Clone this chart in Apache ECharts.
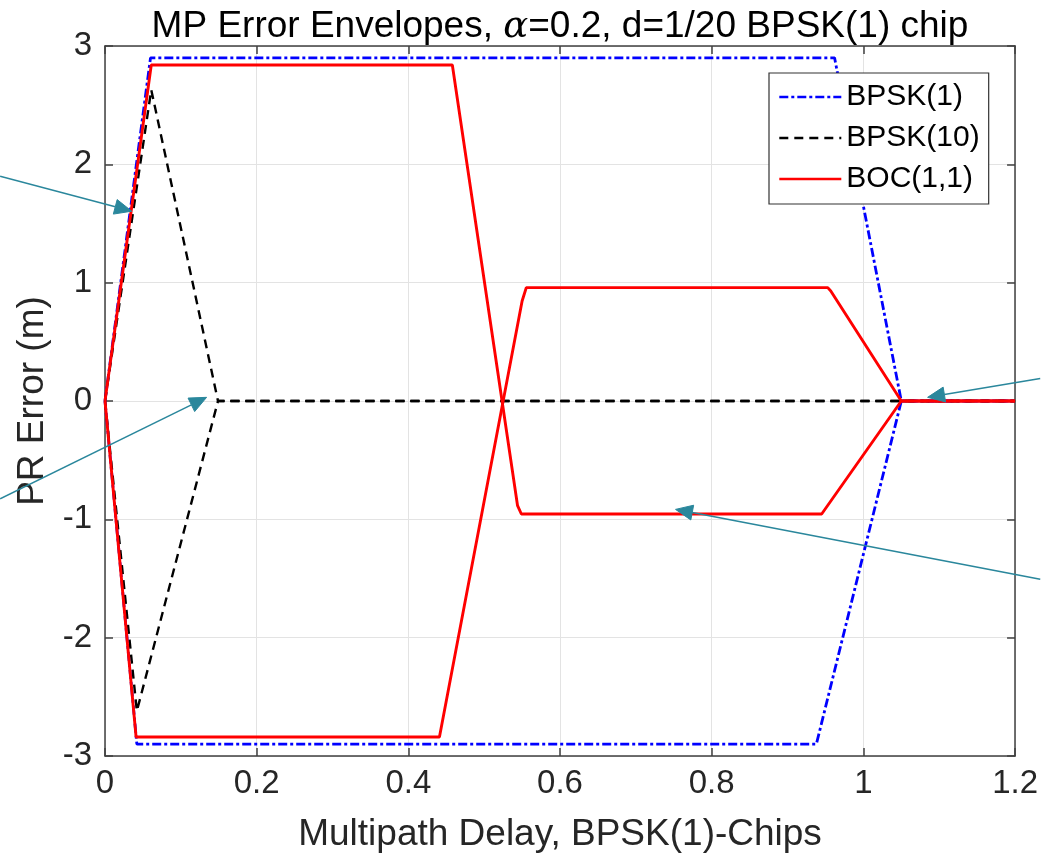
<!DOCTYPE html>
<html><head><meta charset="utf-8">
<script src="https://cdn.jsdelivr.net/npm/echarts@6/dist/echarts.min.js"></script>
<style>html,body{margin:0;padding:0;background:#fff}#c{width:1041px;height:858px}</style>
</head><body><div id="c"></div>
<script>
// ---- axis definitions ----
const xRange = [0, 1.2], xStep = 0.2;
const yRange = [-3, 3], yStep = 1;

// ---- series data: [delay (chips), PR error (m)] ----
const bpsk1Upper = [[0,0],[0.06,2.9],[0.962,2.9],[1.05,0],[1.2,0]];
const bpsk1Lower = [[0,0],[0.042,-2.9],[0.938,-2.9],[1.05,0],[1.2,0]];
const bpsk10Upper = [[0,0],[0.061,2.63],[0.149,0],[1.2,0]];
const bpsk10Lower = [[0,0],[0.042,-2.62],[0.149,0],[1.2,0]];
const bocUpper = [[0,0],[0.061,2.84],[0.458,2.84],[0.544,-0.885],[0.549,-0.955],[0.945,-0.955],[1.05,0],[1.2,0]];
const bocLower = [[0,0],[0.041,-2.84],[0.441,-2.84],[0.550,0.845],[0.5555,0.958],[0.953,0.958],[0.957,0.93],[1.05,0],[1.2,0]];

// ---- annotation arrows (data coordinates) ----
const arrowTails = [[-0.1383,1.899],[-0.1383,-0.826],[1.2332,0.191],[1.2332,-1.506]];
const arrowTips  = [[0.0352,1.604],[0.134,0.031],[1.0847,0.031],[0.7523,-0.916]];

const FONT = "'Liberation Sans', Arial, Helvetica, sans-serif";
const TXT = '#262626';
const chart = echarts.init(document.getElementById('c'), null, {renderer:'canvas'});

const baseAxis = {
  type: 'value',
  axisLine: {show: true, onZero: false, lineStyle: {color: '#404040', width: 1.5}},
  axisTick: {show: true, inside: true, length: 8, lineStyle: {color: '#404040', width: 1.5}},
  splitLine: {show: false},
  axisLabel: {show: false}
};

const blue = {color: '#0000ff', width: 2.8, type: [9,3,3,3]};
const black = {color: '#000000', width: 2.4, type: [9,6]};
const red = {color: '#ff0000', width: 2.9, type: 'solid'};

function mk(name, data, ls) {
  return {name, type: 'line', data, showSymbol: false, symbol: 'none',
    lineStyle: ls, itemStyle: {color: ls.color}, animation: false, clip: true,
    xAxisIndex: 0, yAxisIndex: 0};
}

chart.setOption({
  animation: false,
  backgroundColor: '#fff',
  grid: {left: 105, right: 25, top: 46, bottom: 100, containLabel: false},
  xAxis: [
    Object.assign({}, baseAxis, {
      position: 'bottom', min: xRange[0], max: xRange[1], interval: xStep,
      splitLine: {show: true, lineStyle: {color: '#e3e3e3', width: 1}},
      axisLabel: {show: true, color: TXT, fontSize: 33, fontFamily: FONT, margin: 11},
      name: 'Multipath Delay, BPSK(1)-Chips', nameLocation: 'middle', nameGap: 60,
      nameTextStyle: {color: TXT, fontSize: 37, fontFamily: FONT}
    }),
    Object.assign({}, baseAxis, {position: 'top', min: xRange[0], max: xRange[1], interval: xStep})
  ],
  yAxis: [
    Object.assign({}, baseAxis, {
      position: 'left', min: yRange[0], max: yRange[1], interval: yStep,
      splitLine: {show: true, lineStyle: {color: '#e3e3e3', width: 1}},
      axisLabel: {show: true, color: TXT, fontSize: 33, fontFamily: FONT, margin: 13},
      name: 'PR Error (m)', nameLocation: 'middle', nameGap: 50,
      nameTextStyle: {color: TXT, fontSize: 37, fontFamily: FONT}
    }),
    Object.assign({}, baseAxis, {position: 'right', min: yRange[0], max: yRange[1], interval: yStep})
  ],
  legend: {
    orient: 'vertical', left: 769, top: 73,
    data: ['BPSK(1)', 'BPSK(10)', 'BOC(1,1)'],
    itemWidth: 62, itemHeight: 14, itemGap: 11,
    padding: [9, 9, 10, 9],
    itemStyle: {opacity: 0},
    lineStyle: {width: 2.6},
    backgroundColor: '#fff', borderColor: '#333', borderWidth: 1.2,
    textStyle: {color: '#000', fontSize: 30, fontFamily: FONT, lineHeight: 28},
    selectedMode: false
  },
  series: [
    mk('BPSK(1)', bpsk1Upper, blue), mk('BPSK(1)', bpsk1Lower, blue),
    mk('BPSK(10)', bpsk10Upper, black), mk('BPSK(10)', bpsk10Lower, black),
    mk('BOC(1,1)', bocUpper, red), mk('BOC(1,1)', bocLower, red)
  ]
});

// title + arrows as graphic elements
const graphics = [{
  type: 'text', x: 560, y: 27, z: 100,
  style: {
    text: '{a|MP Error Envelopes, }{i|α}{a|=0.2, d=1/20 BPSK(1) chip}',
    align: 'center', verticalAlign: 'middle',
    rich: {
      a: {fontSize: 37, fontFamily: FONT, fill: '#000'},
      i: {fontSize: 37, fontFamily: "'DejaVu Serif', 'Liberation Serif', serif", fontStyle: 'italic', fill: '#000'}
    }
  }
}];
const AC = '#2a879c';
arrowTails.forEach((t, k) => {
  const p0 = chart.convertToPixel({gridIndex: 0}, t);
  const p1 = chart.convertToPixel({gridIndex: 0}, arrowTips[k]);
  const dx = p1[0] - p0[0], dy = p1[1] - p0[1];
  const len = Math.hypot(dx, dy), ux = dx / len, uy = dy / len;
  const L = 17, W = 7.5;
  const bx = p1[0] - ux * L, by = p1[1] - uy * L;
  graphics.push({type: 'line', z: 90, shape: {x1: p0[0], y1: p0[1], x2: bx, y2: by},
    style: {stroke: AC, lineWidth: 1.5}});
  graphics.push({type: 'polygon', z: 90, shape: {points: [[p1[0], p1[1]], [bx - uy * W, by + ux * W], [bx + uy * W, by - ux * W]]},
    style: {fill: AC, stroke: AC, lineWidth: 1}});
});
chart.setOption({graphic: graphics});
</script>
</body></html>
